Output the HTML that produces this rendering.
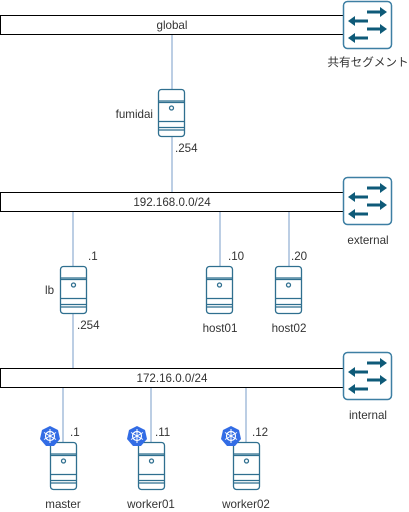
<!DOCTYPE html>
<html><head><meta charset="utf-8"><style>
html,body{margin:0;padding:0;background:#fff;}
svg{display:block;font-family:"Liberation Sans","Noto Sans CJK JP",sans-serif;}
</style></head><body>
<svg width="409" height="512" viewBox="0 0 409 512" xmlns="http://www.w3.org/2000/svg">
<defs>
<g id="srv" fill="#fff" stroke="#2f6f8f" stroke-width="1.3">
<rect x="0.5" y="0.5" width="26" height="47" rx="3"/>
<line x1="0.5" y1="12" x2="26.5" y2="12"/>
<line x1="0.5" y1="13.5" x2="26.5" y2="13.5"/>
<line x1="0.5" y1="32.5" x2="26.5" y2="32.5"/>
<line x1="0.5" y1="38.5" x2="26.5" y2="38.5"/>
<line x1="0.5" y1="41" x2="26.5" y2="41"/>
<circle cx="13.5" cy="19" r="2"/>
</g>
<g id="sw">
<rect x="0.5" y="0.5" width="48" height="47" rx="4" fill="#fff" stroke="#3d7fa3" stroke-width="1.5"/>
<g fill="#0e5a78" stroke="#0e5a78" stroke-width="3">
<line x1="24" y1="11" x2="38" y2="11"/><polygon points="44,11 37,6 37,16" stroke="none"/>
<line x1="11" y1="20" x2="25" y2="20"/><polygon points="5,20 12,15 12,25" stroke="none"/>
<line x1="24" y1="28" x2="38" y2="28"/><polygon points="44,28 37,23 37,33" stroke="none"/>
<line x1="11" y1="37" x2="25" y2="37"/><polygon points="5,37 12,32 12,42" stroke="none"/>
</g>
</g>
<g id="k8s">
<polygon points="0,-10 8,-6 10,3 4,10 -4,10 -10,3 -8,-6" fill="#326ce5"/>
<circle r="4.5" fill="none" stroke="#fff" stroke-width="1.2"/>
<g stroke="#fff" stroke-width="1"><line x1="0" y1="-7" x2="0" y2="7"/><line x1="-6" y1="-3.5" x2="6" y2="3.5"/><line x1="-6" y1="3.5" x2="6" y2="-3.5"/></g>
</g>
</defs>
<g stroke="#a6bddb" stroke-width="1.5">
<line x1="172" y1="34" x2="172" y2="89"/>
<line x1="172" y1="137" x2="172" y2="192"/>
<line x1="73" y1="211" x2="73" y2="266"/>
<line x1="73" y1="314" x2="73" y2="368"/>
<line x1="220" y1="211" x2="220" y2="266"/>
<line x1="289" y1="211" x2="289" y2="266"/>
<line x1="63" y1="387" x2="63" y2="442"/>
<line x1="151" y1="387" x2="151" y2="442"/>
<line x1="246" y1="387" x2="246" y2="442"/>
</g>
<g fill="#fff" stroke="#000" stroke-width="1">
<rect x="0.5" y="15.5" width="343" height="19"/>
<rect x="0.5" y="192.5" width="343" height="19"/>
<rect x="0.5" y="368.5" width="343" height="19"/>
</g>
<use href="#sw" x="343" y="1"/>
<use href="#sw" x="343" y="177"/>
<use href="#sw" x="343" y="352"/>
<use href="#srv" x="158" y="89"/>
<use href="#srv" x="60" y="266"/>
<use href="#srv" x="206" y="266"/>
<use href="#srv" x="275" y="266"/>
<use href="#srv" x="50" y="442"/>
<use href="#srv" x="138" y="442"/>
<use href="#srv" x="233" y="442"/>
<use href="#k8s" x="50" y="436"/>
<use href="#k8s" x="137" y="436"/>
<use href="#k8s" x="231" y="436"/>
<g font-size="11.6" fill="#333">
<text x="172" y="29" text-anchor="middle">global</text>
<text x="172" y="206" text-anchor="middle">192.168.0.0/24</text>
<text x="172" y="382" text-anchor="middle">172.16.0.0/24</text>
<text x="368" y="66" text-anchor="middle">共有セグメント</text>
<text x="368" y="244" text-anchor="middle">external</text>
<text x="368" y="419" text-anchor="middle">internal</text>
<text x="153" y="118" text-anchor="end">fumidai</text>
<text x="175" y="152">.254</text>
<text x="88" y="260">.1</text>
<text x="45" y="294">lb</text>
<text x="77" y="329">.254</text>
<text x="228" y="260">.10</text>
<text x="291" y="260">.20</text>
<text x="220" y="332" text-anchor="middle">host01</text>
<text x="289" y="332" text-anchor="middle">host02</text>
<text x="70" y="436">.1</text>
<text x="155" y="436">.11</text>
<text x="252" y="436">.12</text>
<text x="63" y="508" text-anchor="middle">master</text>
<text x="151" y="508" text-anchor="middle">worker01</text>
<text x="246" y="508" text-anchor="middle">worker02</text>
</g>
</svg>
</body></html>
